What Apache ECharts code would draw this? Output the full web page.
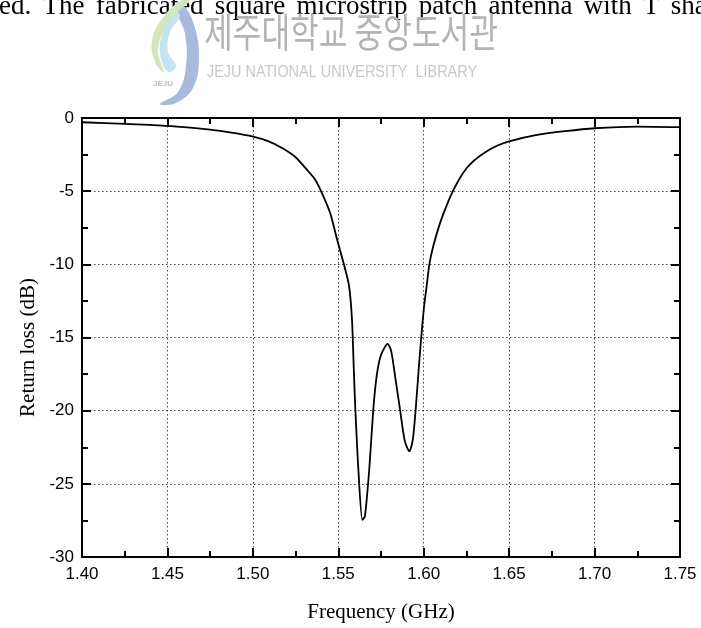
<!DOCTYPE html>
<html>
<head>
<meta charset="utf-8">
<script src="https://cdn.jsdelivr.net/npm/echarts@6/dist/echarts.min.js"></script>
<style>html,body{margin:0;padding:0;background:#fff}#c{width:701px;height:628px}</style>
</head>
<body>
<div id="c"></div>
<script>
// Data
const frequency = [1.4000, 1.4252, 1.4503, 1.4749, 1.4875, 1.5001, 1.5089, 1.5171, 1.5247, 1.5317, 1.5364, 1.5399, 1.5452, 1.5493, 1.5533, 1.5563, 1.5580, 1.5590, 1.5598, 1.5617, 1.5641, 1.5656, 1.5682, 1.5705, 1.5725, 1.5750, 1.5789, 1.5809, 1.5832, 1.5861, 1.5890, 1.5916, 1.5936, 1.5953, 1.5971, 1.5988, 1.6002, 1.6017, 1.6033, 1.6056, 1.6095, 1.6144, 1.6171, 1.6212, 1.6253, 1.6300, 1.6358, 1.6429, 1.6505, 1.6663, 1.6827, 1.7002, 1.7248, 1.7500];
const returnLoss = [-0.29, -0.40, -0.54, -0.80, -1.00, -1.27, -1.58, -2.05, -2.65, -3.54, -4.20, -5.00, -6.48, -8.30, -10.0, -11.47, -13.74, -16.9, -19.4, -23.9, -27.46, -27.2, -23.9, -19.9, -17.6, -16.2, -15.44, -15.9, -17.6, -19.9, -22.1, -22.77, -22.0, -19.9, -17.1, -14.65, -12.9, -11.5, -10.0, -8.75, -7.2, -5.7, -5.0, -4.1, -3.4, -2.85, -2.35, -1.9, -1.58, -1.16, -0.90, -0.70, -0.59, -0.63];
const xTicks = {min: 1.40, max: 1.75, step: 0.05};
const yTicks = {min: -30, max: 0, step: 5};
const xName = 'Frequency (GHz)';
const yName = 'Return loss (dB)';
const captionText = 'ed.\u2006 The\u2006 fabricated\u2006 square\u2006 microstrip\u2006 patch\u2006 antenna\u2006 with\u2006 T\u2006 sha';
const wmKorean = '제주대학교 중앙도서관';
const wmEnglish = 'JEJU NATIONAL UNIVERSITY  LIBRARY';

const series = frequency.map((f, i) => [f, returnLoss[i]]);
const sans = 'Liberation Sans, Arial, sans-serif';
const serif = 'Liberation Serif, Times New Roman, serif';

const chart = echarts.init(document.getElementById('c'), null, {renderer: 'canvas'});
const gridLine = {show: true, lineStyle: {color: '#444', width: 1, type: [1.5, 2.5]}};
const axisLine = {show: true, onZero: false, lineStyle: {color: '#000', width: 2}};
const tick = {show: true, inside: true, length: 9, lineStyle: {color: '#000', width: 2}};
const minor = {show: true, splitNumber: 2, length: 6, lineStyle: {color: '#000', width: 2}};
chart.setOption({
  animation: false,
  backgroundColor: '#fff',
  grid: {left: 82, right: 21, top: 118, bottom: 69, containLabel: false},
  graphic: [
    {type: 'text', left: -1, top: -7, style: {text: captionText, font: '27px ' + serif, fill: '#000'}, z: 4},
    // watermark logo (approximate)
    {type: 'polygon', shape: {smooth: 0.4, points: [[184,6],[195,28],[199,60],[193,88],[176,103],[160,104],[178,92],[186,66],[185,34],[177,10]]}, style: {fill: '#a9bbdc'}, z: 5},
    {type: 'polygon', shape: {smooth: 0.4, points: [[182,0],[164,16],[152,40],[155,62],[164,72],[158,52],[164,30],[178,12],[190,0]]}, style: {fill: '#d3e6bb'}, z: 5},
    {type: 'polygon', shape: {smooth: 0.4, points: [[176,12],[163,32],[160,54],[168,72],[176,66],[168,52],[170,32],[180,16]]}, style: {fill: '#c6e3f2'}, z: 5},
    {type: 'text', left: 153, top: 80, style: {text: 'JEJU', font: 'bold 8px ' + sans, fill: '#b8b8c8'}, z: 6},
    {type: 'text', left: 204, top: 12, style: {text: wmKorean, font: '40px Noto Sans CJK KR', fill: '#b4b4b4'}, scaleX: 0.78, z: 5},
    {type: 'text', left: 207, top: 64, style: {text: wmEnglish, font: '17px ' + sans, fill: '#c8c8c8'}, scaleX: 0.85, z: 5}
  ],
  xAxis: [{
    type: 'value', min: xTicks.min, max: xTicks.max, interval: xTicks.step,
    name: xName, nameLocation: 'middle', nameGap: 45,
    nameTextStyle: {fontFamily: serif, fontSize: 21, color: '#000'},
    axisLine: axisLine, axisTick: tick, minorTick: minor,
    axisLabel: {margin: 9, fontFamily: sans, fontSize: 17, color: '#000', formatter: v => v.toFixed(2)},
    splitLine: gridLine
  }, {
    type: 'value', position: 'top', min: xTicks.min, max: xTicks.max, interval: xTicks.step,
    axisLine: axisLine, axisTick: tick, minorTick: minor,
    axisLabel: {show: false}, splitLine: {show: false}
  }],
  yAxis: [{
    type: 'value', min: yTicks.min, max: yTicks.max, interval: yTicks.step,
    name: yName, nameLocation: 'middle', nameGap: 33, nameRotate: 90,
    nameTextStyle: {fontFamily: serif, fontSize: 21, color: '#000', padding: [0, 20, 0, 0]},
    axisLine: axisLine, axisTick: tick, minorTick: minor,
    axisLabel: {margin: 8, fontFamily: sans, fontSize: 17, color: '#000'},
    splitLine: gridLine
  }, {
    type: 'value', position: 'right', min: yTicks.min, max: yTicks.max, interval: yTicks.step,
    axisLine: axisLine, axisTick: tick, minorTick: minor,
    axisLabel: {show: false}, splitLine: {show: false}
  }],
  series: [{
    type: 'line', data: series, xAxisIndex: 0, yAxisIndex: 0,
    showSymbol: false, smooth: 0.25, clip: true,
    lineStyle: {color: '#000', width: 1.8}
  }]
});
</script>
</body>
</html>
